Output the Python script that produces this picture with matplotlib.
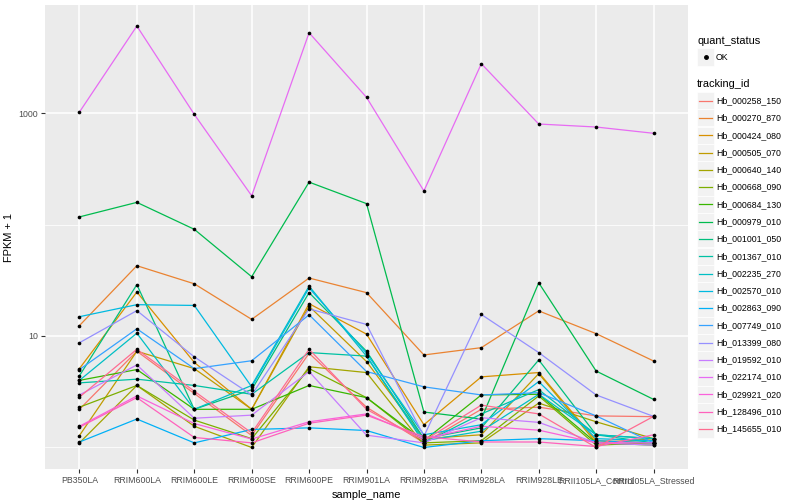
"""FPKM + 1 per sample for each tracking id, ggplot look."""

import matplotlib

matplotlib.use("Agg")
import matplotlib.pyplot as plt
from matplotlib.patches import Rectangle
from matplotlib.lines import Line2D

plt.rcParams["font.family"] = ["Liberation Sans", "DejaVu Sans"]

samples = [
    "PB350LA", "RRIM600LA", "RRIM600LE", "RRIM600SE", "RRIM600PE",
    "RRIM901LA", "RRIM928BA", "RRIM928LA", "RRIM928LE",
    "RRII105LA_Control", "RRII105LA_Stressed",
]

tracking_ids = [
    "Hb_000258_150", "Hb_000270_870", "Hb_000424_080", "Hb_000505_070",
    "Hb_000640_140", "Hb_000668_090", "Hb_000684_130", "Hb_000979_010",
    "Hb_001001_050", "Hb_001367_010", "Hb_002235_270", "Hb_002570_010",
    "Hb_002863_090", "Hb_007749_010", "Hb_013399_080", "Hb_019592_010",
    "Hb_022174_010", "Hb_029921_020", "Hb_128496_010", "Hb_145655_010",
]

# ggplot hue palette for 20 levels
colors = [
    "#F8766D", "#EA8331", "#D89000", "#C09B00", "#A3A500", "#7CAE00",
    "#39B600", "#00BB4E", "#00BF7D", "#00C1A3", "#00BFC4", "#00BAE0",
    "#00B0F6", "#35A2FF", "#9590FF", "#C77CFF", "#E76BF3", "#FA62DB",
    "#FF62BC", "#FF6C91",
]

# FPKM + 1, one list per tracking id, in sample order
fpkm_000258_150 = [2.2, 7.3, 3.05, 1.28, 7.0, 2.3, 1.1, 2.2, 2.3, 1.92, 1.89]
fpkm_000270_870 = [12.4, 42.7, 29.4, 14.1, 33.1, 24.5, 6.76, 7.86, 16.8, 10.5, 5.97]
fpkm_000424_080 = [5.1, 24.8, 5.8, 2.2, 19.5, 10.4, 1.6, 4.3, 4.7, 1.15, 1.1]
fpkm_000505_070 = [1.28, 7.3, 5.1, 2.2, 18.5, 5.9, 1.2, 1.3, 4.6, 1.1, 1.2]
fpkm_000640_140 = [1.1, 3.6, 1.55, 1.0, 5.3, 4.7, 1.05, 1.1, 2.5, 1.7, 1.2]
fpkm_000668_090 = [2.3, 3.6, 1.76, 1.2, 5.1, 2.8, 1.1, 1.15, 2.9, 1.05, 1.1]
fpkm_000684_130 = [4.0, 5.0, 2.2, 2.2, 3.6, 2.8, 1.15, 2.96, 3.0, 1.1, 1.05]
fpkm_000979_010 = [117, 158, 90.6, 34, 240, 154, 2.08, 1.8, 30, 4.85, 2.7]
fpkm_001001_050 = [4.4, 28.9, 2.2, 3.3, 24.5, 7.3, 1.2, 1.5, 6.1, 1.3, 1.2]
fpkm_001367_010 = [3.8, 4.1, 3.6, 3.0, 7.1, 6.6, 1.1, 2.0, 3.3, 1.3, 1.1]
fpkm_002235_270 = [4.0, 10.6, 2.2, 3.6, 28, 6.6, 1.15, 1.4, 3.0, 1.3, 1.2]
fpkm_002570_010 = [14.9, 19.1, 18.8, 3.5, 27, 7.0, 1.3, 1.6, 3.9, 1.2, 1.15]
fpkm_002863_090 = [1.12, 1.8, 1.1, 1.45, 1.5, 1.42, 1.0, 1.15, 1.2, 1.15, 1.1]
fpkm_007749_010 = [5.0, 11.6, 5.1, 6.0, 15.5, 4.8, 3.5, 2.96, 3.1, 1.92, 1.1]
fpkm_013399_080 = [8.7, 16.9, 6.5, 2.96, 17.5, 12.7, 1.26, 15.6, 7.1, 2.96, 1.9]
fpkm_019592_010 = [2.96, 5.5, 1.83, 1.95, 4.8, 1.29, 1.1, 1.85, 1.68, 1.1, 1.05]
fpkm_022174_010 = [1020, 6030, 973, 181, 5250, 1383, 200, 2770, 797, 749, 658]
fpkm_029921_020 = [1.55, 2.9, 1.64, 1.19, 1.7, 2.0, 1.2, 1.55, 1.43, 1.1, 1.1]
fpkm_128496_010 = [1.52, 2.8, 1.23, 1.1, 1.65, 1.95, 1.25, 1.12, 1.12, 1.02, 1.3]
fpkm_145655_010 = [2.83, 7.6, 3.2, 1.35, 7.6, 2.2, 1.15, 2.4, 2.0, 1.0, 1.9]

series = [
    fpkm_000258_150, fpkm_000270_870, fpkm_000424_080, fpkm_000505_070,
    fpkm_000640_140, fpkm_000668_090, fpkm_000684_130, fpkm_000979_010,
    fpkm_001001_050, fpkm_001367_010, fpkm_002235_270, fpkm_002570_010,
    fpkm_002863_090, fpkm_007749_010, fpkm_013399_080, fpkm_019592_010,
    fpkm_022174_010, fpkm_029921_020, fpkm_128496_010, fpkm_145655_010,
]

W, H = 800, 500


def fx(px):
    return px / W


def fy(py):
    return 1 - py / H


def draw_panel(fig):
    """Lines and points on a log axis with ggplot grey theme."""
    ax = fig.add_axes([fx(45), fy(469), fx(688) - fx(45), fy(5) - fy(469)])
    ax.set_facecolor("#EBEBEB")
    for s in ax.spines.values():
        s.set_visible(False)

    x = list(range(len(samples)))
    for vals, col in zip(series, colors):
        ax.plot(x, vals, color=col, linewidth=0.9, zorder=3)
    for vals in series:
        ax.scatter(x, vals, color="black", s=7, zorder=4, linewidths=0)

    ax.set_yscale("log")
    ax.set_ylim(10 ** -0.193, 10 ** 3.969)
    ax.set_xlim(-0.6, len(samples) - 0.4)
    ax.set_yticks([10, 1000])
    ax.set_yticklabels(["10", "1000"])
    ax.set_yticks([1, 100], minor=True)
    ax.set_yticklabels([], minor=True)
    ax.set_xticks(x)
    ax.set_xticklabels(samples)
    ax.tick_params(axis="both", which="major", length=3, width=0.8,
                   color="#333333", labelcolor="#4D4D4D", labelsize=6.3, pad=2)
    ax.tick_params(axis="y", which="minor", length=0)
    ax.grid(True, which="major", color="white", linewidth=1.1, zorder=0)
    ax.grid(True, which="minor", axis="y", color="white", linewidth=0.55, zorder=0)
    ax.set_axisbelow(True)

    ax.set_xlabel("sample_name", fontsize=7.9, labelpad=4)
    ax.set_ylabel("FPKM + 1", fontsize=7.9)
    # y title centred about 14 px from the left edge, as in the ggplot output
    ax.yaxis.set_label_coords(-(45 - 14) / (688 - 45), 0.5)
    return ax


def draw_legend(fig):
    """ggplot style legend with two guides, drawn in figure coordinates."""
    tx = 716
    fig.text(fx(697), fy(41), "quant_status", fontsize=7.9, va="center")
    fig.patches.append(Rectangle((fx(697), fy(65.5)), fx(17), 17 / H,
                                 transform=fig.transFigure, facecolor="#F2F2F2",
                                 edgecolor="white", linewidth=0.5))
    fig.lines.append(Line2D([fx(705.5)], [fy(57)], marker="o", markersize=2.5,
                            color="black", transform=fig.transFigure))
    fig.text(fx(tx), fy(57), "OK", fontsize=6.3, va="center", color="black")

    fig.text(fx(697), fy(84), "tracking_id", fontsize=7.9, va="center")
    y0, step = 100.7, 17.28
    for i, (name, col) in enumerate(zip(tracking_ids, colors)):
        yc = y0 + i * step
        fig.patches.append(Rectangle((fx(697), fy(yc + 8.5)), fx(17), 17 / H,
                                     transform=fig.transFigure, facecolor="#F2F2F2",
                                     edgecolor="white", linewidth=0.5))
        fig.lines.append(Line2D([fx(699), fx(712)], [fy(yc), fy(yc)], color=col,
                                linewidth=0.9, transform=fig.transFigure))
        fig.text(fx(tx), fy(yc), name, fontsize=6.3, va="center", color="black")


def main():
    fig = plt.figure(figsize=(8, 5), dpi=100)
    draw_panel(fig)
    draw_legend(fig)
    fig.savefig("out.png", dpi=100)


if __name__ == "__main__":
    main()
